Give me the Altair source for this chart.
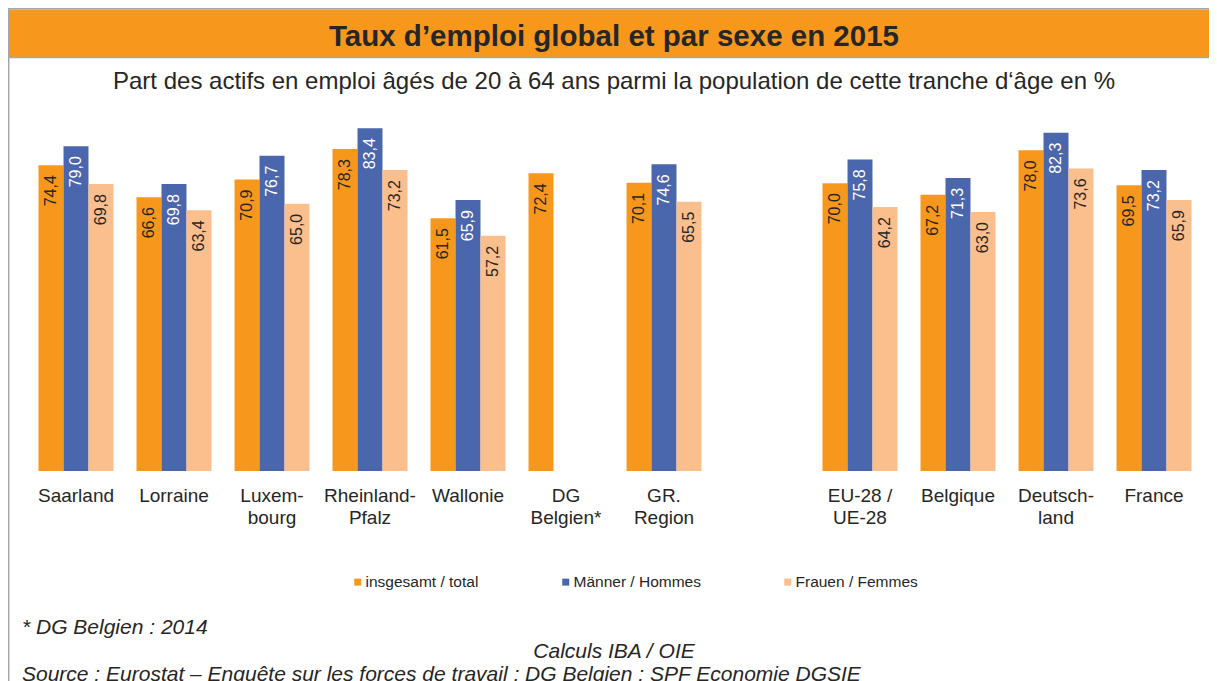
import altair as alt
import pandas as pd

FONT = "Liberation Sans"
TXT = "#262626"

categories = ["Saarland", "Lorraine", "Luxem-|bourg", "Rheinland-|Pfalz", "Wallonie",
              "DG|Belgien*", "GR.|Region", "_gap", "EU-28 /|UE-28", "Belgique",
              "Deutsch-|land", "France"]
total = [74.4, 66.6, 70.9, 78.3, 61.5, 72.4, 70.1, None, 70.0, 67.2, 78.0, 69.5]
hommes = [79.0, 69.8, 76.7, 83.4, 65.9, None, 74.6, None, 75.8, 71.3, 82.3, 73.2]
femmes = [69.8, 63.4, 65.0, 73.2, 57.2, None, 65.5, None, 64.2, 63.0, 73.6, 65.9]
series = ["insgesamt / total", "Männer / Hommes", "Frauen / Femmes"]
colors = ["#F7981D", "#4A66AC", "#FBBF8E"]

title_text = "Taux d’emploi global et par sexe en 2015"
subtitle_text = "Part des actifs en emploi âgés de 20 à 64 ans parmi la population de cette tranche d‘âge en %"
note1 = "* DG Belgien : 2014"
note2 = "Calculs IBA / OIE"
note3 = "Source : Eurostat – Enquête sur les forces de travail ; DG Belgien : SPF Economie DGSIE"

rows = []
for s, vals in zip(series, [total, hommes, femmes]):
    for c, v in zip(categories, vals):
        if v is not None:
            rows.append({"region": c, "serie": s, "value": v,
                         "label": f"{v:.1f}".replace(".", ",")})
df = pd.DataFrame(rows)

x_enc = alt.X("region:N",
              scale=alt.Scale(domain=categories, paddingInner=0.235, paddingOuter=0.1175),
              axis=alt.Axis(title=None, labelAngle=0, domain=False, ticks=False,
                            labelExpr="datum.value == '_gap' ? '' : split(datum.value, '|')",
                            labelPadding=15, labelFontSize=19, labelLineHeight=22,
                            labelColor=TXT, labelFont=FONT, labelLimit=300))
xo_enc = alt.XOffset("serie:N", scale=alt.Scale(domain=series, paddingInner=0, paddingOuter=0))
y_enc = alt.Y("value:Q", scale=alt.Scale(domain=[0, 90]), axis=None)

base = alt.Chart(df)
bars = base.mark_bar().encode(
    x=x_enc, xOffset=xo_enc, y=y_enc,
    color=alt.Color("serie:N", scale=alt.Scale(domain=series, range=colors),
                    legend=alt.Legend(title=None, orient="none", legendX=323, legendY=473,
                                      direction="horizontal", symbolType="square",
                                      symbolSize=49, symbolStrokeWidth=0,
                                      labelFontSize=15.5, labelFont=FONT, labelColor=TXT,
                                      columnPadding=79, labelOffset=0, padding=0)),
)
labels = base.mark_text(angle=270, align="right", baseline="middle", dx=-10,
                        fontSize=16, font=FONT).encode(
    x=x_enc, xOffset=xo_enc, y=y_enc, text="label:N",
    color=alt.condition("datum.serie == 'Männer / Hommes'", alt.value("white"), alt.value(TXT)),
)

one = pd.DataFrame({"k": [0]})

def txt(t, x, y, size, align="left", weight="normal", style="normal"):
    return alt.Chart(one).mark_text(text=t, align=align, baseline="alphabetic",
                                    fontSize=size, font=FONT, fontWeight=weight,
                                    fontStyle=style, color=TXT).encode(
        x=alt.value(x), y=alt.value(y))

title_bar = alt.Chart(one).mark_rect(color="#F7981D").encode(
    x=alt.value(-19), x2=alt.value(1182), y=alt.value(-91.5), y2=alt.value(-44))
line_top = alt.Chart(one).mark_rule(color="#A6A6A6", strokeWidth=1.5).encode(
    x=alt.value(-19), x2=alt.value(1182), y=alt.value(-92.3))
line_mid = alt.Chart(one).mark_rule(color="#A6A6A6", strokeWidth=1.5).encode(
    x=alt.value(-19), x2=alt.value(1182), y=alt.value(-43.5))
line_left = alt.Chart(one).mark_rule(color="#A6A6A6", strokeWidth=1.5).encode(
    x=alt.value(-18.3), y=alt.value(-93), y2=alt.value(600))

title = txt(title_text, 587, -55.5, 29.5, align="center", weight="bold")
subtitle = txt(subtitle_text, 587, -12, 24, align="center")
n1 = txt(note1, -5, 533, 21, style="italic")
n2 = txt(note2, 587, 557, 21, align="center", style="italic")
n3 = txt(note3, -5, 580, 21, style="italic")

chart = alt.layer(title_bar, line_top, line_mid, line_left, bars, labels,
                  title, subtitle, n1, n2, n3).properties(
    width=1176, height=370,
    autosize=alt.AutoSizeParams(type="none"),
    padding={"left": 19, "top": 93, "right": 6, "bottom": 210},
).configure_view(strokeWidth=0)

chart.save("out.html", embed_options={"renderer": "svg", "actions": False})
